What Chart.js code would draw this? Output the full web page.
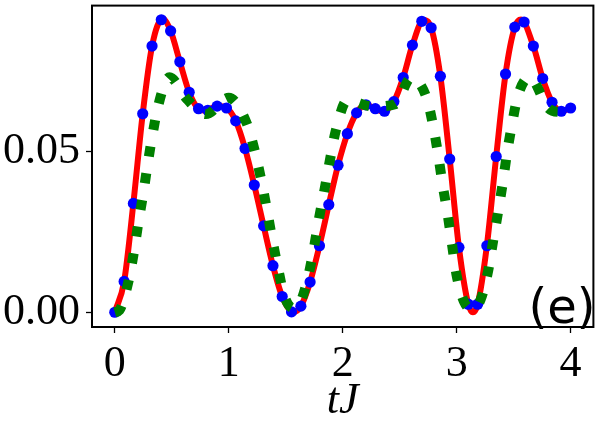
<!DOCTYPE html>
<html lang="en">
<head>
    <meta charset="UTF-8">
    <title>tJ</title>
    <style>
        body { margin: 0; background: #fff; }
        #chart { display: block; }
    </style>
</head>
<body>
    <canvas id="chart" width="599" height="424"></canvas>

    <script src="https://cdn.jsdelivr.net/npm/chart.js"></script>
    <script>
// red solid curve (extra points at the turning points)
const redT = [0, 0.082, 0.163, 0.245, 0.327, 0.42, 0.49, 0.571, 0.653, 0.735, 0.80, 0.898, 0.98,
    1.061, 1.143, 1.224, 1.306, 1.388, 1.469, 1.565, 1.633, 1.714, 1.796, 1.878, 1.959,
    2.041, 2.122, 2.204, 2.286, 2.35, 2.449, 2.531, 2.612, 2.71, 2.776, 2.857, 2.939,
    3.02, 3.102, 3.143, 3.184, 3.265, 3.347, 3.429, 3.51, 3.565, 3.673, 3.755, 3.837, 3.918, 4.0];
const redY = [0, 0.0096, 0.0339, 0.0618, 0.0829, 0.0914, 0.0876, 0.0780, 0.0685, 0.0634, 0.0628, 0.0642, 0.0636,
    0.0596, 0.0510, 0.0396, 0.0269, 0.0145, 0.0049, 0.0000, 0.0019, 0.0094, 0.0207, 0.0335, 0.0458,
    0.0556, 0.0621, 0.0646, 0.0634, 0.0625, 0.0656, 0.0731, 0.0832, 0.0910, 0.0886, 0.0735, 0.0477,
    0.0202, 0.0025, 0.0000, 0.0025, 0.0207, 0.0485, 0.0742, 0.0888, 0.0912, 0.0829, 0.0728, 0.0654, 0.0626, 0.0636];

// blue dots, 50 samples from 0 to 4
const dotT = [0, 0.082, 0.163, 0.245, 0.327, 0.408, 0.490, 0.571, 0.653, 0.735,
    0.816, 0.898, 0.980, 1.061, 1.143, 1.224, 1.306, 1.388, 1.469, 1.551,
    1.633, 1.714, 1.796, 1.878, 1.959, 2.041, 2.122, 2.204, 2.286, 2.367,
    2.449, 2.531, 2.612, 2.694, 2.776, 2.857, 2.939, 3.020, 3.102, 3.184,
    3.265, 3.347, 3.429, 3.510, 3.592, 3.673, 3.755, 3.837, 3.918, 4.000];
const dotY = [0.0000, 0.0096, 0.0339, 0.0618, 0.0829, 0.0911, 0.0876, 0.0780, 0.0685, 0.0634,
    0.0629, 0.0642, 0.0636, 0.0596, 0.0510, 0.0396, 0.0269, 0.0145, 0.0049, 0.0001,
    0.0019, 0.0094, 0.0207, 0.0335, 0.0458, 0.0556, 0.0621, 0.0646, 0.0634, 0.0626,
    0.0656, 0.0731, 0.0832, 0.0906, 0.0886, 0.0735, 0.0477, 0.0202, 0.0025, 0.0025,
    0.0207, 0.0485, 0.0742, 0.0888, 0.0904, 0.0829, 0.0728, 0.0654, 0.0626, 0.0636];

// green dotted curve
const greenT = [0, 0.04, 0.12, 0.167, 0.207, 0.25, 0.288, 0.33, 0.38, 0.48, 0.63, 0.80, 1.00,
    1.156, 1.23, 1.286, 1.336, 1.382, 1.431, 1.489, 1.57, 1.633, 1.697, 1.749, 1.793, 1.842,
    1.888, 1.938, 2.04, 2.26, 2.46, 2.60, 2.739, 2.797, 2.84, 2.878, 2.921, 2.959, 2.997,
    3.066, 3.14, 3.21, 3.277, 3.32, 3.364, 3.405, 3.442, 3.485, 3.538, 3.64, 3.804, 3.90, 4.0];
const greenY = [0, 0.0006, 0.0096, 0.0186, 0.0279, 0.0370, 0.0460, 0.0551, 0.0642, 0.0732, 0.0665, 0.0617, 0.0668,
    0.0590, 0.0500, 0.0410, 0.0318, 0.0227, 0.0140, 0.0049, 0.0012, 0.0035, 0.0111, 0.0204, 0.0294, 0.0385,
    0.0474, 0.0564, 0.0660, 0.0641, 0.0648, 0.0730, 0.0665, 0.0574, 0.0485, 0.0394, 0.0305, 0.0212, 0.0120,
    0.0032, 0.0010, 0.0039, 0.0130, 0.0222, 0.0313, 0.0404, 0.0495, 0.0584, 0.0675, 0.0732, 0.0636, 0.0624, 0.0634];

const xTicks = [0, 1, 2, 3, 4];
const yTicks = [0, 0.05];

function pts(xs, ys) {
    return xs.map((x, i) => ({ x: x, y: ys[i] }));
}

const serif = 'Liberation Serif';

// frame around plot + panel letter
const framePlugin = {
    id: 'frame',
    afterDraw(chart) {
        const { ctx, chartArea: a } = chart;
        ctx.save();
        ctx.strokeStyle = '#000';
        ctx.lineWidth = 2;
        ctx.strokeRect(a.left, a.top, a.right - a.left, a.bottom - a.top);
        ctx.fillStyle = '#000';
        ctx.font = '48px "DejaVu Sans"';
        ctx.textAlign = 'right';
        ctx.textBaseline = 'alphabetic';
        ctx.fillText('(e)', a.right + 2, a.bottom - 4);
        ctx.restore();
    }
};

new Chart(document.getElementById('chart'), {
    type: 'line',
    data: {
        datasets: [
            {
                data: pts(greenT, greenY),
                borderColor: '#008000',
                borderWidth: 10,
                borderDash: [10, 17],
                borderCapStyle: 'butt',
                pointRadius: 0,
                fill: false,
                cubicInterpolationMode: 'monotone',
                order: 0
            },
            {
                data: pts(dotT, dotY),
                showLine: false,
                pointRadius: 5.6,
                pointBorderWidth: 0,
                pointBackgroundColor: '#0000ff',
                pointBorderColor: '#0000ff',
                order: 1
            },
            {
                data: pts(redT, redY),
                borderColor: '#ff0000',
                borderWidth: 6,
                pointRadius: 0,
                fill: false,
                cubicInterpolationMode: 'monotone',
                order: 2
            }
        ]
    },
    options: {
        responsive: false,
        animation: false,
        devicePixelRatio: 1,
        layout: { padding: { top: 2, right: 2, left: 0, bottom: 0 } },
        plugins: { legend: { display: false }, tooltip: { enabled: false } },
        scales: {
            x: {
                type: 'linear',
                min: -0.2,
                max: 4.2,
                afterBuildTicks: s => { s.ticks = xTicks.map(v => ({ value: v })); },
                afterFit: s => { s.height = 97; s.paddingLeft = 0; s.paddingRight = 0; },
                ticks: {
                    color: '#000',
                    font: { family: serif, size: 44 },
                    padding: 5,
                    maxRotation: 0,
                    callback: v => String(v)
                },
                grid: { drawOnChartArea: false, tickLength: 6, tickColor: '#000', tickWidth: 1.3 },
                border: { display: false },
                title: {
                    display: true,
                    text: 'tJ',
                    color: '#000',
                    font: { family: serif, size: 44, style: 'italic', lineHeight: 1.0 },
                    padding: { top: 0, bottom: 1 }
                }
            },
            y: {
                type: 'linear',
                min: -0.0046,
                max: 0.0955,
                afterBuildTicks: s => { s.ticks = yTicks.map(v => ({ value: v })); },
                afterFit: s => { s.width = 92; s.paddingTop = 0; s.paddingBottom = 0; },
                ticks: {
                    color: '#000',
                    font: { family: serif, size: 44 },
                    padding: 6,
                    callback: v => v.toFixed(2)
                },
                grid: { drawOnChartArea: false, tickLength: 6, tickColor: '#000', tickWidth: 1.3 },
                border: { display: false }
            }
        }
    },
    plugins: [framePlugin]
});
    </script>
</body>
</html>
